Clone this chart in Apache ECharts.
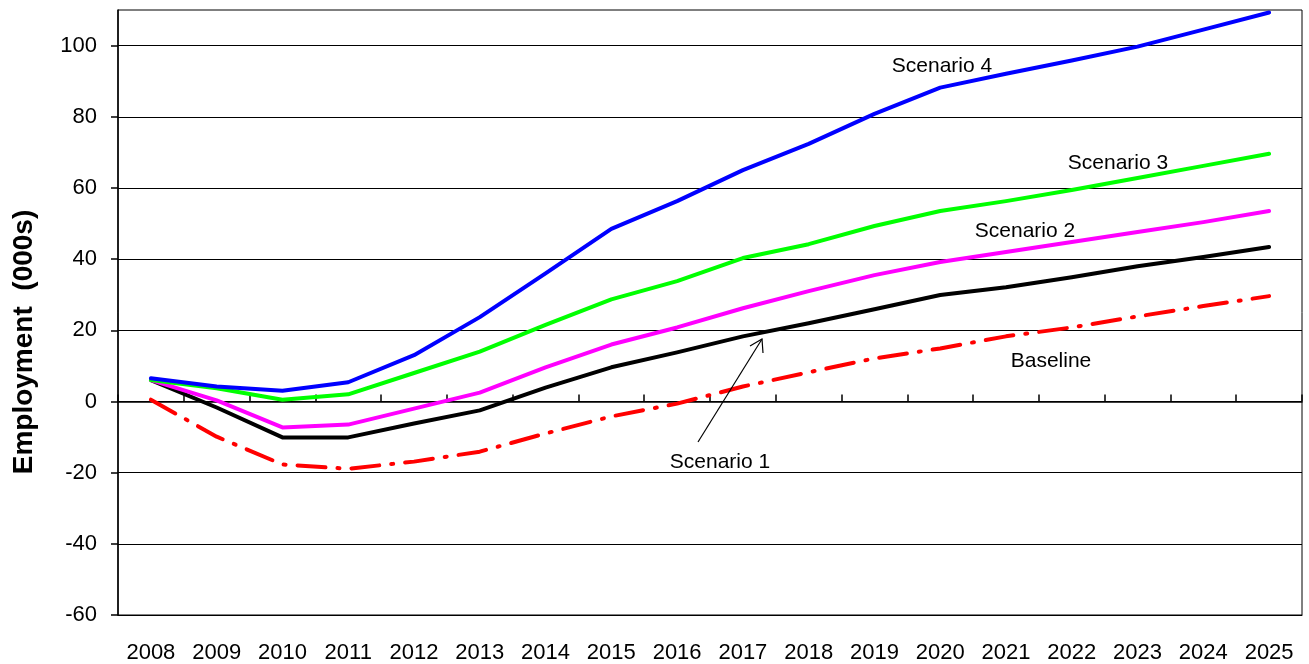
<!DOCTYPE html>
<html>
<head>
<meta charset="utf-8">
<title>Employment scenarios</title>
<script src="https://cdn.jsdelivr.net/npm/echarts@6/dist/echarts.min.js"></script>
<style>
  html, body { margin: 0; padding: 0; background: #fff; }
  #main { width: 1309px; height: 664px; }
</style>
</head>
<body>
<div id="main"></div>
<script>
const years = ['2008', '2009', '2010', '2011', '2012', '2013', '2014', '2015', '2016',
  '2017', '2018', '2019', '2020', '2021', '2022', '2023', '2024', '2025'];
const yTicks = [-60, -40, -20, 0, 20, 40, 60, 80, 100];

const scenario4 = [6.5, 4.2, 3.0, 5.4, 13.0, 23.7, 36.0, 48.5, 56.3, 65.0, 72.4, 80.8, 88.2, 92.1, 95.8, 99.7, 104.5, 109.3];
const scenario3 = [6.0, 3.7, 0.5, 2.0, 8.0, 14.0, 21.5, 28.7, 33.8, 40.3, 44.2, 49.3, 53.5, 56.3, 59.4, 62.8, 66.2, 69.6];
const scenario2 = [6.0, 0.3, -7.3, -6.5, -2.0, 2.5, 9.6, 16.0, 20.8, 26.2, 31.0, 35.5, 39.2, 42.0, 44.8, 47.6, 50.4, 53.5];
const scenario1 = [6.0, -1.7, -10.1, -10.1, -6.2, -2.5, 3.9, 9.6, 13.8, 18.3, 22.0, 25.9, 29.9, 32.1, 34.9, 38.0, 40.6, 43.4];
const baseline = [0.5, -9.9, -17.7, -18.9, -16.9, -14.1, -9.0, -4.2, -0.6, 4.2, 8.2, 12.1, 14.9, 18.3, 20.8, 23.9, 26.8, 29.6];

const font = 'Liberation Sans, Arial, sans-serif';

function lineSeries(name, data, color, dash) {
  return {
    name: name,
    type: 'line',
    data: data,
    symbol: 'none',
    silent: true,
    z: 3,
    lineStyle: {
      color: color,
      width: 4,
      type: dash || 'solid',
      cap: 'round',
      join: 'round'
    }
  };
}

function label(text, x, y) {
  return {
    type: 'text',
    x: x,
    y: y,
    style: {
      text: text,
      fill: '#000',
      font: '21px ' + font,
      align: 'center',
      verticalAlign: 'middle'
    },
    z: 10
  };
}

let myChart = echarts.init(document.getElementById('main'));
let option = {
  animation: false,
  backgroundColor: '#fff',
  grid: {
    left: 118,
    top: 10,
    right: 7,
    bottom: 49,
    show: true,
    borderColor: '#000',
    borderWidth: 1
  },
  xAxis: [{
    type: 'category',
    data: years,
    boundaryGap: true,
    axisLine: { onZero: false, lineStyle: { color: '#000', width: 1 } },
    axisTick: { show: false },
    axisLabel: { color: '#000', fontSize: 22, fontFamily: font, margin: 27 },
    splitLine: { show: false }
  }, {
    type: 'category',
    data: years,
    boundaryGap: true,
    axisLine: { onZero: true, onZeroAxisIndex: 0, lineStyle: { color: '#000', width: 1.5 } },
    axisTick: { show: true, length: 7, lineStyle: { color: '#000', width: 1.5 } },
    axisLabel: { show: false },
    splitLine: { show: false }
  }],
  yAxis: {
    type: 'value',
    min: -60,
    max: 110,
    interval: 20,
    axisLine: { show: true, lineStyle: { color: '#000', width: 1.5 } },
    axisTick: { show: true, length: 7, customValues: yTicks, lineStyle: { color: '#000', width: 1.5 } },
    axisLabel: { color: '#000', fontSize: 22, fontFamily: font, margin: 21, customValues: yTicks },
    splitLine: { show: true, lineStyle: { color: '#000', width: 1 } }
  },
  series: [
    lineSeries('Baseline', baseline, '#ff0000', [28, 12, 2, 12]),
    lineSeries('Scenario 1', scenario1, '#000000'),
    lineSeries('Scenario 2', scenario2, '#ff00ff'),
    lineSeries('Scenario 3', scenario3, '#00ff00'),
    lineSeries('Scenario 4', scenario4, '#0000ff')
  ],
  graphic: [
    {
      type: 'text',
      x: 24,
      y: 342,
      rotation: Math.PI / 2,
      style: {
        text: 'Employment  (000s)',
        fill: '#000',
        font: 'bold 28px ' + font,
        align: 'center',
        verticalAlign: 'middle'
      }
    },
    label('Scenario 4', 942, 66),
    label('Scenario 3', 1118, 163),
    label('Scenario 2', 1025, 231),
    label('Baseline', 1051, 361),
    label('Scenario 1', 720, 462),
    // arrow pointing to Scenario 1
    {
      type: 'line',
      shape: { x1: 698, y1: 442, x2: 762, y2: 339 },
      style: { stroke: '#000', lineWidth: 1.2 },
      z: 10
    },
    {
      type: 'polyline',
      shape: { points: [[750, 346], [762, 339], [763, 353]] },
      style: { stroke: '#000', lineWidth: 1.2, fill: null },
      z: 10
    }
  ]
};
myChart.setOption(option);
</script>
</body>
</html>
